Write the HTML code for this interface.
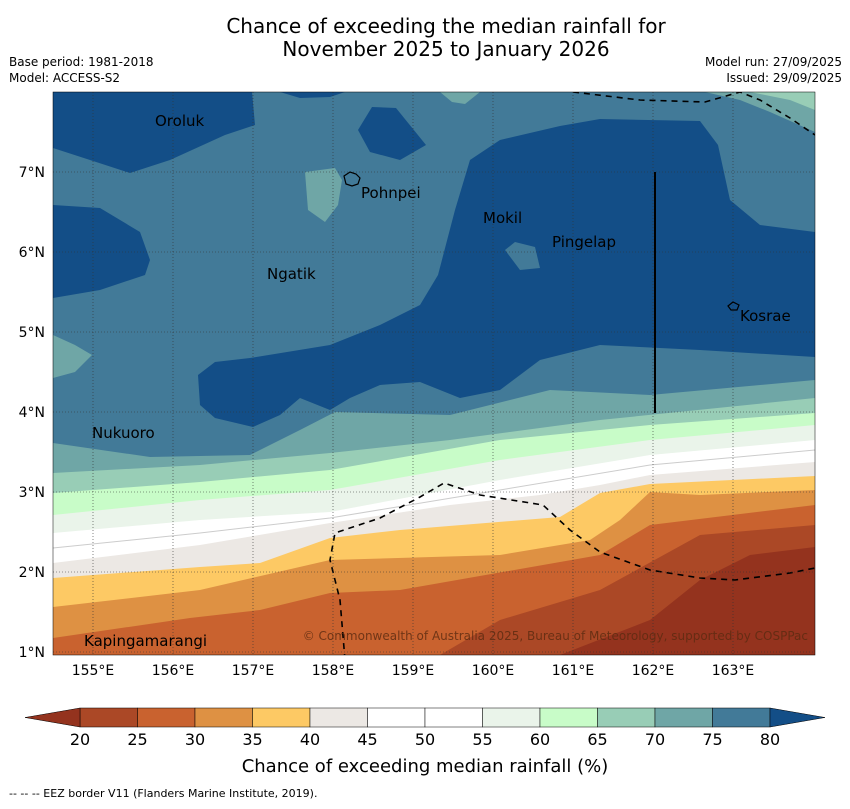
<!DOCTYPE html>
<html><head><meta charset="utf-8"><style>
html,body{margin:0;padding:0;background:#fff;}
body{width:850px;height:804px;position:relative;overflow:hidden;font-family:"Liberation Sans","DejaVu Sans",sans-serif;}
</style></head><body>
<svg id="fig" width="850" height="804" viewBox="0 0 850 804" xmlns="http://www.w3.org/2000/svg" style="font-family:'DejaVu Sans','Liberation Sans',sans-serif">
<text x="446" y="33" font-size="20" text-anchor="middle">Chance of exceeding the median rainfall for</text>
<text x="446" y="56" font-size="20" text-anchor="middle">November 2025 to January 2026</text>
<text x="9" y="66" font-size="12">Base period: 1981-2018</text>
<text x="9" y="82" font-size="12">Model: ACCESS-S2</text>
<text x="842" y="66" font-size="12" text-anchor="end">Model run: 27/09/2025</text>
<text x="842" y="82" font-size="12" text-anchor="end">Issued: 29/09/2025</text>
<defs><clipPath id="mc"><rect x="53" y="92" width="762" height="563"/></clipPath></defs>
<g id="map" clip-path="url(#mc)"></g>
<g id="grid"></g>
<g id="labels"></g>
<g id="axes"></g>
<g id="cbar"></g>
<text x="425" y="772" font-size="18" text-anchor="middle">Chance of exceeding median rainfall (%)</text>
<text x="9" y="797" font-size="11">--  --  -- EEZ border V11 (Flanders Marine Institute, 2019).</text>
</svg>
<script>
const levels=[20,25,30,35,40,45,50,55,60,65,70,75,80];
const bandColors=['#ab4826','#c9622f','#de9143','#fdc964','#ece8e4','#ffffff','#ffffff','#eaf4ea','#c8fcc8','#98cdb6','#6fa6a6','#427a98'];
const underColor='#94331e', overColor='#134e87';
const lonTicks=[155,156,157,158,159,160,161,162,163];
const latTicks=[1,2,3,4,5,6,7];
const NS='http://www.w3.org/2000/svg';
const x0=53,x1=815,y0=92,y1=655;
const lonX=l=>93+(l-155)*80;
const latY=l=>172-(l-7)*80;
function mk(tag,attrs,parent){const e=document.createElementNS(NS,tag);for(const k in attrs)e.setAttribute(k,attrs[k]);parent.appendChild(e);return e;}
const map=document.getElementById('map');
function poly(pts,fill,name){const e=mk('polygon',{points:pts.map(p=>p.join(',')).join(' '),fill:fill},map);


return e;}
poly([[x0,y0],[x1,y0],[x1,y1],[x0,y1]],bandColors[11],'band-75-80');
poly([[705,92],[815,92],[815,132],[770,112],[740,100]],bandColors[10],'band-70-75-ne');
poly([[750,92],[815,92],[815,110],[790,100]],bandColors[9],'band-65-70-ne');
poly([[440,92],[480,92],[465,104],[452,102]],bandColors[10],'band-70-75-n');
poly([[53,335],[75,345],[92,355],[75,372],[53,378]],bandColors[10],'band-70-75-w');
poly([[53,92],[252,92],[255,125],[225,135],[170,160],[130,173],[90,160],[53,148]],overColor,'over-80-nw');
poly([[280,92],[345,92],[330,97],[300,98]],overColor,'over-80-n');
poly([[358,130],[372,107],[396,108],[426,145],[400,160],[370,152]],overColor,'over-80-blob');
poly([[53,205],[100,208],[140,232],[150,260],[145,275],[100,290],[53,298]],overColor,'over-80-w');
poly([[470,160],[500,140],[560,126],[600,119],[700,121],[718,145],[730,200],[760,225],[815,232],[815,357],[700,350],[600,345],[540,360],[500,390],[460,398],[420,382],[380,385],[350,398],[330,410],[300,398],[280,415],[253,427],[215,418],[200,405],[198,375],[215,362],[250,358],[330,345],[380,325],[420,305],[438,275],[455,210]],overColor,'over-80-main');
poly([[505,250],[515,242],[535,247],[540,268],[520,270]],bandColors[11],'band-75-80-blob');
poly([[305,172],[335,168],[342,180],[338,205],[325,222],[308,210]],bandColors[10],'band-70-75-pohnpei');
const bounds=[
 [10,[[53,443],[150,457],[250,455],[300,430],[335,412],[450,415],[550,390],[650,395],[815,380]]],
 [9,[[53,473],[200,465],[330,453],[450,440],[600,420],[815,398]]],
 [8,[[53,493],[200,482],[330,470],[500,440],[650,425],[815,413]]],
 [7,[[53,515],[200,500],[330,490],[500,460],[650,440],[815,425]]],
 [6,[[53,533],[200,520],[330,512],[500,480],[650,455],[815,440]]],
 [4,[[53,563],[200,545],[330,523],[450,505],[540,495],[600,485],[650,475],[815,462]]],
 [3,[[53,578],[200,567],[260,563],[330,538],[400,530],[560,517],[600,493],[650,484],[815,476]]],
 [2,[[53,607],[200,590],[330,560],[500,555],[590,540],[620,520],[650,492],[700,495],[815,490]]],
 [1,[[53,638],[190,618],[260,610],[330,593],[400,590],[600,555],[650,525],[815,505]]],
 [0,[[53,660],[440,660],[440,655],[500,620],[600,590],[700,535],[815,525]]],
];
bounds.forEach(([i,pts])=>{const all=pts.concat([[815,660],[53,660]]);poly(all,bandColors[i],'band-'+levels[i]+'-'+levels[i+1]);});
poly([[560,660],[560,655],[650,620],[700,580],[750,555],[815,547],[815,660]],underColor,'under-20');
[[[53,548],[200,533],[330,518],[500,490],[650,465],[815,450]]].forEach(p=>{const e=mk('polyline',{points:p.map(q=>q.join(',')).join(' '),fill:'none',stroke:'#ccc','stroke-width':1},map);});
function dash(pts,name){const e=mk('polyline',{points:pts.map(q=>q.join(',')).join(' '),fill:'none',stroke:'#000','stroke-width':1.6,'stroke-dasharray':'6,5'},map);}
dash([[345,660],[340,600],[330,560],[335,533],[380,518],[420,497],[444,483],[480,495],[543,505],[570,530],[600,552],[650,570],[700,578],[735,580],[790,573],[815,568]],'eez-border-south');
dash([[573,92],[640,100],[705,102],[740,92],[760,100],[790,118],[815,135]],'eez-border-north');
const kl=mk('line',{x1:655,y1:172,x2:655,y2:413,stroke:'#000','stroke-width':2},map);
const grid=document.getElementById('grid');
lonTicks.forEach(l=>{const e=mk('line',{x1:lonX(l),y1:y0,x2:lonX(l),y2:y1,stroke:'#333','stroke-width':0.6,'stroke-dasharray':'1,2'},grid);});
latTicks.forEach(l=>{const e=mk('line',{x1:x0,y1:latY(l),x2:x1,y2:latY(l),stroke:'#333','stroke-width':0.6,'stroke-dasharray':'1,2'},grid);});
const axes=document.getElementById('axes');
lonTicks.forEach(l=>{const t=mk('text',{x:lonX(l),y:675,'font-size':14,'text-anchor':'middle'},axes);t.textContent=l+'°E';});
latTicks.forEach(l=>{const t=mk('text',{x:45,y:latY(l)+5,'font-size':14,'text-anchor':'end'},axes);t.textContent=l+'°N';});
const places=[['Oroluk',155,126],['Pohnpei',361,198],['Mokil',483,223],['Pingelap',552,247],['Ngatik',267,279],['Kosrae',740,321],['Nukuoro',92,438],['Kapingamarangi',84,646]];
const lab=document.getElementById('labels');
places.forEach(([n,x,y])=>{const t=mk('text',{x:x,y:y,'font-size':15},lab);t.textContent=n;});
const pi=mk('path',{d:'M344,176 l6,-4 6,2 4,4 -2,6 -6,2 -6,-2 z M728,306 l5,-4 6,3 -2,5 -6,0 z',fill:'none',stroke:'#000','stroke-width':1.2},lab);
const cp=mk('text',{x:808,y:640,'font-size':12,'text-anchor':'end',fill:'#5a2a10','fill-opacity':0.8},lab);cp.textContent='© Commonwealth of Australia 2025, Bureau of Meteorology, supported by COSPPac';
const fr=mk('rect',{x:x0,y:y0,width:x1-x0,height:y1-y0,fill:'none',stroke:'#000','stroke-width':0.5},axes);
const cb=document.getElementById('cbar');
const cbX0=80,cbX1=770,cbY=708,cbH=19;
const cx=v=>cbX0+(v-levels[0])/(levels[levels.length-1]-levels[0])*(cbX1-cbX0);
bandColors.forEach((c,i)=>{const r=mk('rect',{x:cx(levels[i]),y:cbY,width:cx(levels[i+1])-cx(levels[i]),height:cbH,fill:c,stroke:'#000','stroke-width':0.5},cb);});
const tl=mk('polygon',{points:`${cbX0},${cbY} ${cbX0-55},${cbY+cbH/2} ${cbX0},${cbY+cbH}`,fill:underColor,stroke:'#000','stroke-width':0.5},cb);
const tr=mk('polygon',{points:`${cbX1},${cbY} ${cbX1+55},${cbY+cbH/2} ${cbX1},${cbY+cbH}`,fill:overColor,stroke:'#000','stroke-width':0.5},cb);
levels.forEach(v=>{const t=mk('text',{x:cx(v),y:745,'font-size':16,'text-anchor':'middle'},cb);t.textContent=v;});
</script>
</body></html>
